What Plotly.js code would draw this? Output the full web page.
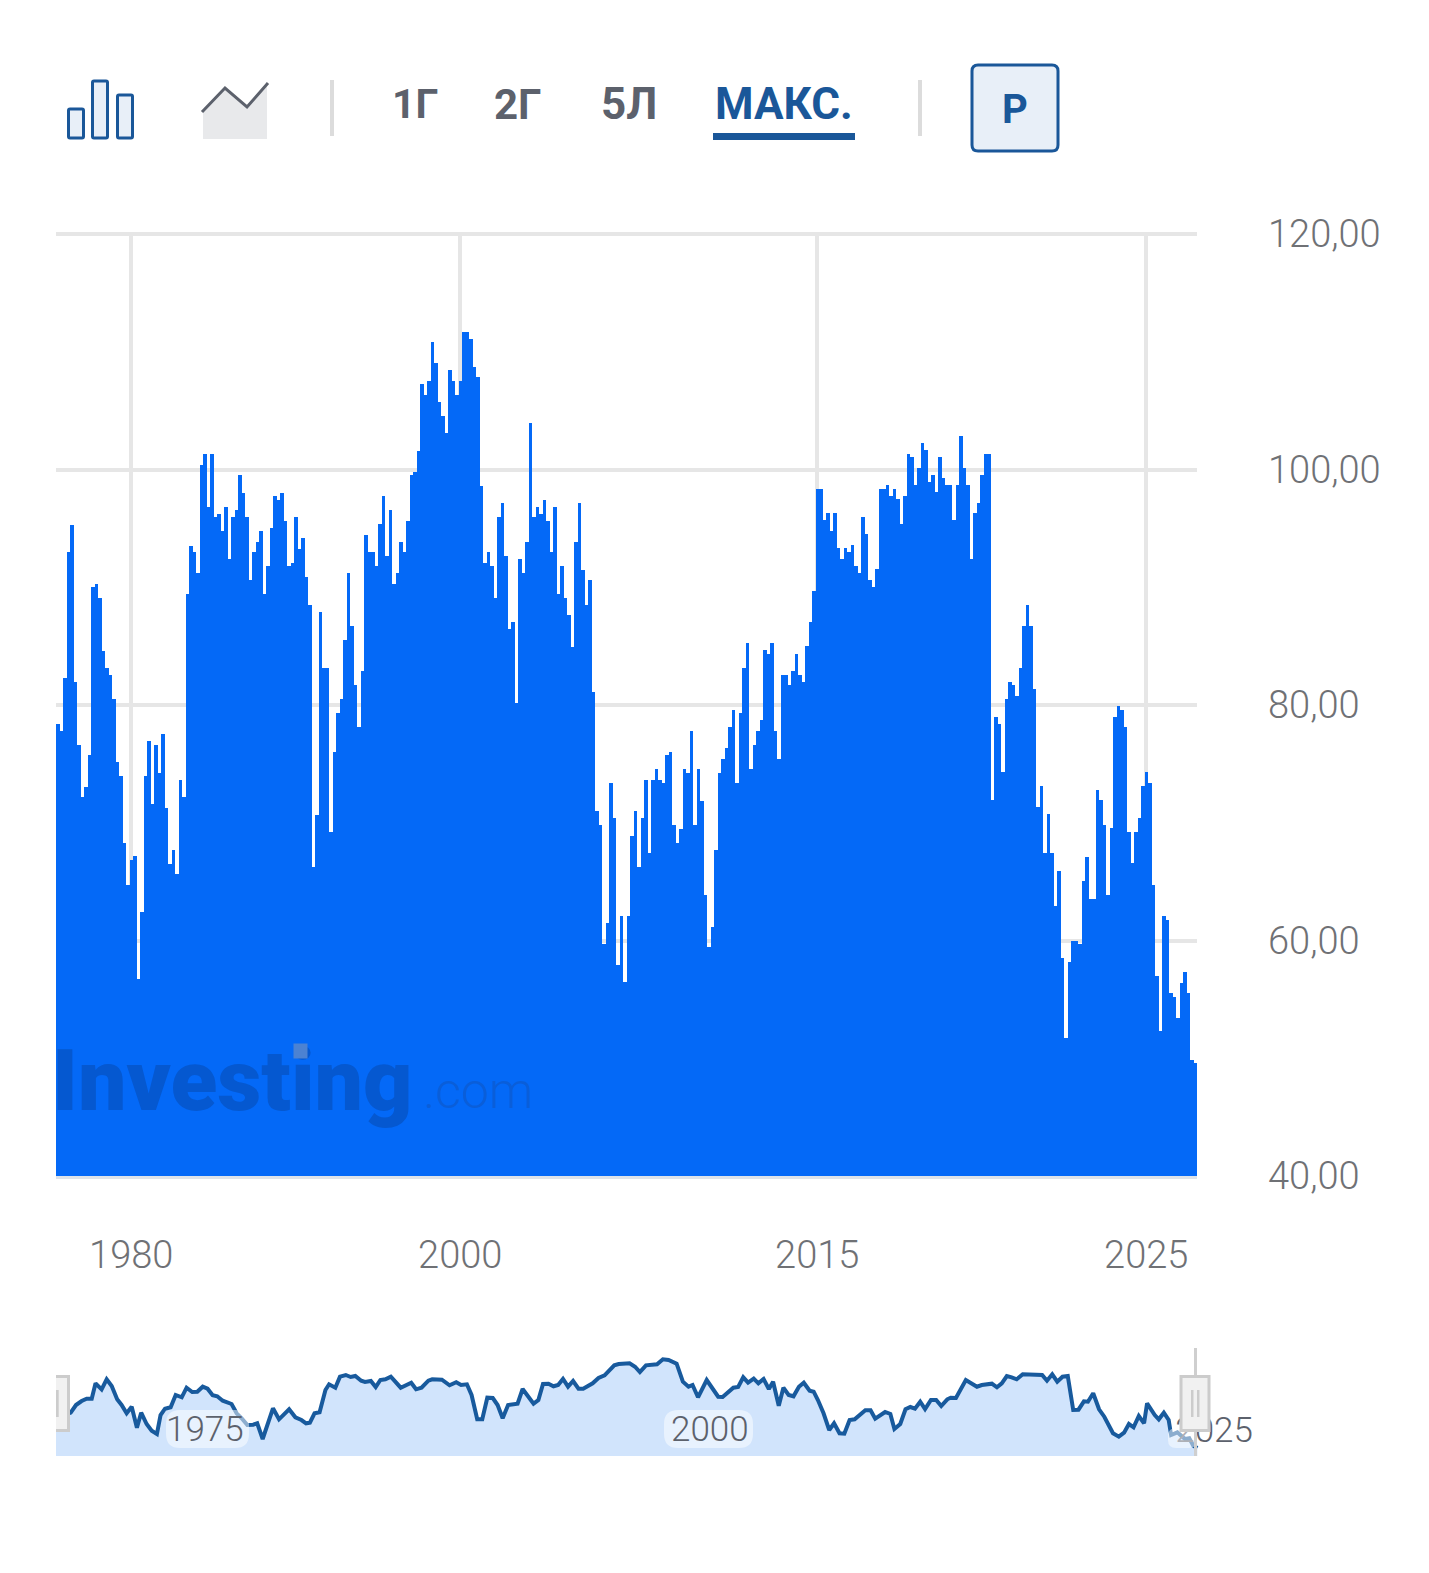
<!DOCTYPE html>
<html><head><meta charset="utf-8">
<script src="https://cdn.plot.ly/plotly-3.0.1.min.js"></script>
<style>html,body{margin:0;padding:0;background:#fff}#chart{width:1429px;height:1573px}</style>
</head><body><div id="chart"></div>
<script>
const barValues = [
78.39,77.82,82.30,93.00,95.31,81.98,76.63,72.19,73.06,75.76,90.02,90.28,89.12,84.61,83.17,82.58,80.51,75.16,73.97,68.31,
64.74,66.84,67.18,56.73,62.42,73.97,76.95,71.59,76.63,74.25,77.54,71.28,66.52,67.71,65.65,73.66,72.19,89.40,93.53,93.00,
91.21,100.41,101.32,96.84,101.32,95.97,96.22,94.78,96.84,92.40,95.97,96.56,99.54,98.03,95.97,90.62,93.00,93.87,94.78,89.43,
91.81,95.06,97.75,97.44,98.03,95.65,91.81,92.09,95.97,93.28,94.19,90.90,88.52,66.24,70.68,87.93,83.17,83.17,69.22,76.04,
79.32,80.51,85.55,91.21,86.74,81.70,78.13,82.86,94.47,93.00,93.00,91.81,95.37,97.75,92.68,96.56,90.28,91.21,93.87,93.00,
95.65,99.54,99.82,101.60,107.26,106.36,107.54,110.81,109.02,105.76,104.57,103.10,108.43,107.54,106.36,107.54,111.71,111.71,111.09,108.73,
107.83,98.63,92.09,93.00,91.81,89.12,95.97,97.13,92.68,86.43,87.03,80.20,92.40,91.19,93.87,103.98,95.94,96.84,96.22,97.44,
95.65,92.97,96.84,89.40,91.78,89.12,87.62,84.95,93.87,97.13,91.49,88.52,90.59,81.08,71.00,69.81,59.70,61.49,73.35,70.40,
57.92,62.08,56.45,62.08,68.90,71.00,66.24,70.40,73.66,67.43,73.66,74.54,73.66,73.38,75.73,76.04,69.81,68.31,69.50,74.54,
74.25,77.82,69.81,74.54,71.87,63.87,59.42,61.17,67.71,74.25,75.44,76.32,78.11,79.60,73.38,79.30,83.17,85.24,74.54,76.63,
77.82,78.70,84.65,84.36,85.24,77.82,75.44,82.58,82.58,81.70,82.86,84.36,82.58,81.98,84.99,87.03,89.71,98.35,98.35,95.69,
96.28,94.78,96.28,93.31,92.40,93.31,93.00,93.59,91.81,91.21,95.97,94.50,90.62,90.02,91.53,98.35,98.35,98.66,97.75,98.35,
97.47,95.37,97.75,101.32,101.04,98.66,100.13,102.23,101.63,98.97,99.54,98.07,101.04,99.26,98.66,98.66,95.69,98.66,102.82,100.13,
98.66,92.40,96.28,97.16,99.54,101.32,101.32,71.91,79.01,78.41,74.29,80.51,81.98,81.67,80.79,83.17,86.74,88.52,86.74,81.39,
71.31,73.10,67.43,70.72,67.43,62.96,65.93,58.51,51.69,58.20,59.98,59.98,59.70,65.05,67.12,63.55,63.55,72.78,71.91,69.81,
63.87,69.53,79.01,79.89,79.60,78.11,69.22,66.56,69.22,70.40,73.10,74.29,73.38,64.74,57.01,52.29,62.06,61.77,55.54,55.23,
53.44,56.42,57.30,55.54,49.88,49.60];
const barTickIndex = [21,115,217,311];
const barTickLabels = ['1980','2000','2015','2025'];
const yTicks = [40,60,80,100,120];

const navYears = [1967.62,1968.35,1968.61,1968.89,1969.14,1969.39,1969.58,1969.88,1970.13,1970.38,1970.65,1970.87,1971.12,1971.37,1971.63,1971.84,1972.11,1972.36,1972.62,1972.80,
1973.02,1973.30,1973.55,1973.85,1974.09,1974.37,1974.62,1974.89,1975.13,1975.38,1975.61,1975.88,1976.32,1976.57,1976.82,1977.10,1977.39,1977.59,1977.86,1978.37,
1978.67,1979.17,1979.48,1979.78,1980.01,1980.20,1980.43,1980.68,1980.97,1981.15,1981.46,1981.69,1981.98,1982.22,1982.45,1982.74,1982.93,1983.22,1983.46,1983.69,
1983.94,1984.21,1984.70,1985.22,1985.46,1985.73,1986.07,1986.26,1986.74,1987.12,1987.45,1987.69,1987.98,1988.21,1988.49,1988.74,1988.99,1989.26,1989.50,1989.75,
1990.02,1990.49,1990.74,1991.28,1991.52,1991.75,1992.02,1992.27,1992.50,1992.74,1992.99,1993.24,1993.51,1993.74,1994.21,1994.50,1994.80,1995.28,1995.50,1996.04,
1996.31,1996.55,1996.85,1997.40,1997.69,1997.97,1998.37,1998.68,1998.96,1999.16,1999.43,1999.86,2000.43,2000.65,2001.18,2001.42,2001.67,2001.91,2002.19,2002.42,
2002.68,2002.94,2003.15,2003.43,2003.66,2003.92,2004.16,2004.43,2004.67,2004.96,2005.16,2005.37,2005.65,2005.93,2006.17,2006.44,2006.68,2006.94,2007.19,2007.72,
2007.98,2008.21,2008.70,2008.96,2009.16,2009.45,2009.71,2009.95,2010.18,2010.44,2010.68,2010.97,2011.23,2011.48,2011.78,2011.95,2012.21,2012.70,2013.25,2013.49,
2013.99,2014.24,2014.48,2014.73,2014.97,2015.22,2015.52,2015.95,2016.48,2016.72,2016.98,2017.23,2017.49,2017.75,2018.02,2018.28,2018.55,2018.75,2019.01,2019.30,
2019.56,2019.99,2020.28,2020.54,2020.78,2021.01,2021.27,2021.53,2021.68,2022.06,2022.26,2022.51,2022.75,2022.87,2023.18,2023.56,2023.77,2023.97,2024.17];
const navValues = [38,43.3,51,55,57.3,57.3,72.7,66.7,76.7,70,56.7,51,42.7,49.3,28.3,43.3,32,25.3,22,41,
47.3,48.7,61,58.7,68.3,64,64.3,69.3,67.3,60.7,59.7,55.3,52,42.7,37.7,31,31.3,32.7,17,47.7,
36.7,46.7,38.7,36,32.7,33.3,42.7,43.7,66,71.7,68.3,79.3,81,79,80,75.3,74,75,69,76,
76.7,79.3,68.3,73.3,66.7,68.3,75.3,76.7,76.3,70.7,73.7,71,71.7,61,36.7,36.7,58.3,58,51,37.7,
51,52.3,67,52.3,56,72,72.3,69.7,71,77,69.3,75,67.3,67.3,72.7,78,80.7,90.7,92,92.7,
89.3,84,90.7,91.7,96.7,96,92.3,74.3,69.3,71,58.7,76,59.3,59,68.3,69,78.7,73.3,77.3,72.7,
77,67,74.3,50.3,68.3,61,59.7,69.3,73.3,65.3,64.3,56,42.7,26,32.7,22.7,22.3,36,36.7,45.7,
45.7,37.3,44,42,27,32,46.7,49,47.3,54.3,47,56,56,50,56.7,58.3,58,76,69.3,71,
72.3,68.7,72.7,80,78.7,76.7,81.7,81.7,81,75.3,81.7,74.3,79.3,80,46,46.3,54.7,54.3,62.7,46.7,
39.3,22.7,19.3,23.3,32,28.7,40,32.7,52.7,41,36.7,43.3,36,21,23.7,17,17.7,10.3,8];
const navTickYears = [1975,2000,2025];
const navLabelLevel = 23;

const W = 1429, H = 1573;
const X = p => p / W, Y = p => 1 - p / H;
const BLUE = '#1a5799', GREY = '#5c616c', TXT = '#6f7175', HALO = 'rgba(255,255,255,0.5)';

function rect(x0, y0, x1, y1, line, fill, lw) {
  return {type:'rect', xref:'paper', yref:'paper', x0:X(x0), x1:X(x1), y0:Y(y0), y1:Y(y1),
    line:{color:line, width:lw === undefined ? 3 : lw}, fillcolor:fill, layer:'above'};
}
function poly(pts, line, fill, lw) {
  const d = pts.map((p, i) => (i ? 'L' : 'M') + X(p[0]) + ',' + Y(p[1])).join(' ') + (fill ? ' Z' : '');
  return {type:'path', xref:'paper', yref:'paper', path:d, layer:'above',
    line:{color:line || 'rgba(0,0,0,0)', width:lw === undefined ? 3 : lw}, fillcolor:fill || 'rgba(0,0,0,0)'};
}
function roundBox(x0, y0, x1, y1, r, line, fill, lw) {
  const p = (a, b) => X(a) + ',' + Y(b);
  const d = 'M' + p(x0 + r, y0) + ' L' + p(x1 - r, y0) + ' Q' + p(x1, y0) + ' ' + p(x1, y0 + r) +
    ' L' + p(x1, y1 - r) + ' Q' + p(x1, y1) + ' ' + p(x1 - r, y1) + ' L' + p(x0 + r, y1) +
    ' Q' + p(x0, y1) + ' ' + p(x0, y1 - r) + ' L' + p(x0, y0 + r) + ' Q' + p(x0, y0) + ' ' + p(x0 + r, y0) + ' Z';
  return {type:'path', xref:'paper', yref:'paper', path:d, layer:'above', line:{color:line, width:lw}, fillcolor:fill};
}
function label(text, x, y, color, size, extra) {
  return Object.assign({text:text, xref:'paper', yref:'paper', x:X(x), y:Y(y), xanchor:'center', yanchor:'middle',
    showarrow:false, font:{family:'Roboto', size:size, color:color, weight:700}}, extra || {});
}

const shapes = [
  roundBox(68.5, 109, 83.5, 138, 1.5, BLUE, '#e8eff8', 3),
  roundBox(92.5, 81, 107.5, 138, 1.5, BLUE, '#e8eff8', 3),
  roundBox(117.5, 95, 132.5, 138, 1.5, BLUE, '#e8eff8', 3),
  poly([[203,111],[225,88],[247,107],[267,85],[267,139],[203,139]], null, '#e8e9eb', 0),
  poly([[202,112],[225,88],[247,107],[268,83]], GREY, null, 3),
  rect(330, 80, 334, 136, '#dcdcdc', '#dcdcdc', 0),
  rect(918, 80, 922, 136, '#dcdcdc', '#dcdcdc', 0),
  rect(713, 133, 855, 140, BLUE, BLUE, 0),
  roundBox(972, 65, 1058, 151, 6, BLUE, '#e8eff8', 3),
  // halos behind the navigator year labels
  roundBox(166, 1410, 249, 1448, 14, 'rgba(0,0,0,0)', HALO, 0),
  roundBox(664, 1410, 753, 1448, 14, 'rgba(0,0,0,0)', HALO, 0),
  roundBox(1168, 1428, 1197, 1448, 8, 'rgba(0,0,0,0)', HALO, 0),
  // navigator handles
  rect(1194, 1348, 1197, 1456, '#cfcfcf', '#cfcfcf', 0),
  rect(1181, 1376.5, 1209, 1430.5, '#cccccc', '#f1f1f1', 3),
  rect(1191, 1390, 1193.5, 1417, '#cccccc', '#cccccc', 0),
  rect(1197, 1390, 1199.5, 1417, '#cccccc', '#cccccc', 0),
  rect(56, 1375, 70, 1432, '#cccccc', '#cccccc', 0),
  rect(56, 1378, 67, 1429, '#f1f1f1', '#f1f1f1', 0),
  rect(56, 1390, 58.7, 1417, '#cccccc', '#cccccc', 0)
];

const annotations = [
  label('1Г', 415, 104, GREY, 41),
  label('2Г', 517.5, 104, GREY, 42),
  label('5Л', 629, 104, GREY, 44),
  label('МАКС.', 784, 104, BLUE, 44),
  label('Р', 1015, 109, BLUE, 40),
  {text:'Investing', xref:'paper', yref:'paper', x:X(50), y:Y(1080), xanchor:'left', yanchor:'middle', showarrow:false,
    font:{family:'Roboto', size:86, color:'#0558d0', weight:900}},
  {text:' ', xref:'paper', yref:'paper', x:X(300.5), y:Y(1051), xanchor:'center', yanchor:'middle', showarrow:false,
    width:13, height:14, bgcolor:'#4c82d2', borderpad:0, font:{size:10}},
  {text:'.com', xref:'paper', yref:'paper', x:X(478), y:Y(1091), xanchor:'center', yanchor:'middle', showarrow:false,
    font:{family:'Roboto', size:50, color:'#0a5ed9', weight:300}}
].concat(navTickYears.slice(0, 2).map(yr => ({text:String(yr), xref:'x2', yref:'y2', x:yr, y:navLabelLevel + 3.5,
    xanchor:'center', yanchor:'middle', showarrow:false, font:{family:'Roboto', size:35, color:'#5c616c', weight:300}})));

const traces = [
  {type:'bar', x:barValues.map((v, i) => i), y:barValues, xaxis:'x', yaxis:'y',
   marker:{color:'#0469f7', line:{width:0}}, hoverinfo:'none'},
  {type:'scatter', mode:'lines', x:navYears, y:navValues, xaxis:'x2', yaxis:'y2', fill:'tozeroy',
   fillcolor:'#d1e4fc', line:{color:'#185a9d', width:4}, hoverinfo:'none'},
  {type:'scatter', mode:'text', x:navTickYears.slice(2), y:[navLabelLevel], text:navTickYears.slice(2).map(String), xaxis:'x2', yaxis:'y2',
   textposition:'middle center', textfont:{family:'Roboto', size:35, color:'#5c616c', weight:300}, hoverinfo:'none'}
];

const layout = {
  width:W, height:H, autosize:false, showlegend:false, margin:{l:0, r:0, t:0, b:0, pad:0},
  paper_bgcolor:'#fff', plot_bgcolor:'#fff', separators:', ', bargap:0, shapes:shapes, annotations:annotations,
  xaxis:{domain:[X(56), X(1197)], range:[-0.5, 325.5], anchor:'y', tickmode:'array', tickvals:barTickIndex, ticktext:barTickLabels,
    showgrid:true, gridcolor:'#e6e6e6', gridwidth:4, zeroline:false, showline:true, linecolor:'#dde3ea', linewidth:3, ticks:'',
    ticklabelstandoff:43, tickfont:{family:'Roboto', size:38, color:TXT, weight:300}},
  yaxis:{domain:[Y(1176), Y(232.23)], range:[40, 120.15], anchor:'x', side:'right', tickmode:'array', tickvals:yTicks, tickformat:'.2f',
    showgrid:true, gridcolor:'#e6e6e6', gridwidth:4, zeroline:false, showline:false, ticks:'',
    ticklabelstandoff:70, tickfont:{family:'Roboto', size:38, color:TXT, weight:300}},
  xaxis2:{domain:[X(56), X(1270)], range:[1967.62, 2027.77], anchor:'y2', showticklabels:false, showgrid:false, zeroline:false, showline:false, ticks:''},
  yaxis2:{domain:[Y(1456), Y(1346)], range:[0, 110], anchor:'x2', showgrid:false, zeroline:false, showline:false, showticklabels:false, ticks:''}
};
Plotly.newPlot('chart', traces, layout, {displayModeBar:false, staticPlot:true});
</script></body></html>
